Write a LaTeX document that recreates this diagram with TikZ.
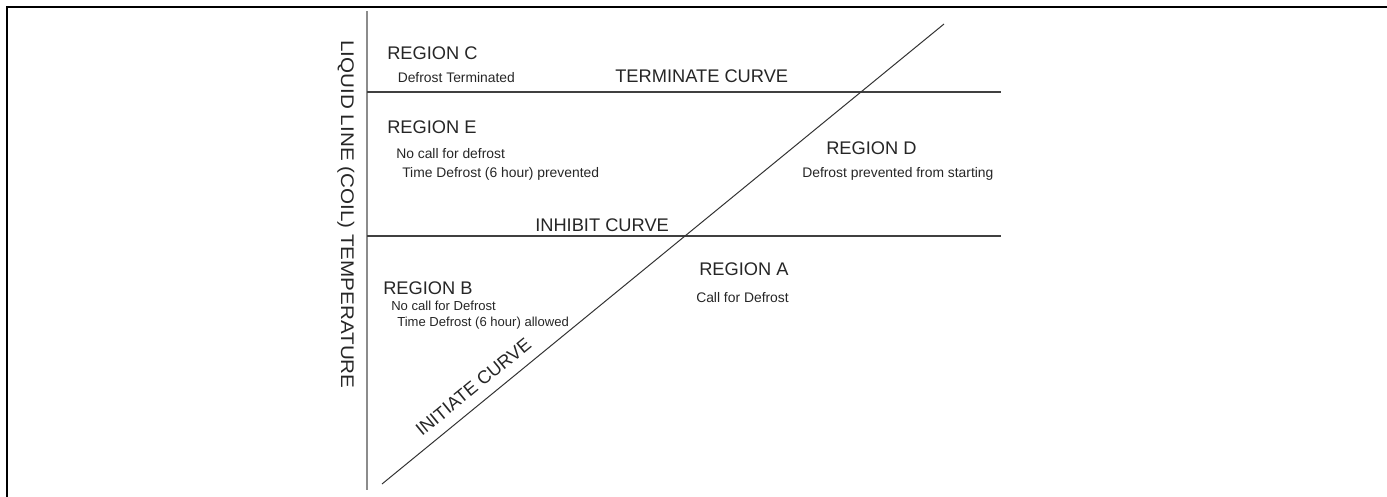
\documentclass[tikz,border=0pt]{standalone}
\usepackage{fontspec}
\setmainfont{Liberation Sans}
\begin{document}
\begin{tikzpicture}[x=0.75pt,y=-0.75pt,
  big/.style={inner sep=0pt,anchor=base west,font=\fontsize{13.7}{16}\selectfont,text=black!85},
  small/.style={inner sep=0pt,anchor=base west,font=\fontsize{10.4}{12}\selectfont,text=black!85},
  smallb/.style={small,font=\fontsize{9.8}{12}\selectfont},
  frameline/.style={line width=1.7pt,black},
  axisline/.style={line width=1.1pt,black!45},
  curveline/.style={line width=0.9pt,black!75},
  diagline/.style={line width=0.75pt,black!80}]
\useasboundingbox (0,0) rectangle (1387,496);
% frame (top and left edges)
\coordinate (f1) at (7,7);
\coordinate (f2) at (1390,7);
\coordinate (f3) at (7,500);
\draw[frameline] (f2) -- (f1) -- (f3);
% axis
\coordinate (ax1) at (367,11);
\coordinate (ax2) at (367,490);
\draw[axisline] (ax1) -- (ax2);
% terminate and inhibit curves
\coordinate (t1) at (367,92);
\coordinate (t2) at (1001,92);
\coordinate (i1) at (367,236);
\coordinate (i2) at (1001,236);
\draw[curveline] (t1) -- (t2);
\draw[curveline] (i1) -- (i2);
% initiate curve
\coordinate (d1) at (382,484);
\coordinate (d2) at (944,24);
\draw[diagline] (d1) -- (d2);
% labels
\node[big] (rc) at (387,59) {REGION C};
\node[small] (rct) at (397.5,82) {Defrost Terminated};
\node[big] (tc) at (615,82) {TERMINATE CURVE};
\node[big] (re) at (387,133) {REGION E};
\node[small] (re1) at (396,158) {No call for defrost};
\node[small] (re2) at (402,177) {Time Defrost (6 hour) prevented};
\node[big] (ic) at (535,231) {INHIBIT CURVE};
\node[big] (rd) at (826,154) {REGION D};
\node[small] (rdt) at (802,177) {Defrost prevented from starting};
\node[big] (ra) at (699,275) {REGION A};
\node[small] (rat) at (696,302) {Call for Defrost};
\node[big] (rb) at (383,294) {REGION B};
\node[smallb] (rb1) at (391,310) {No call for Defrost};
\node[smallb] (rb2) at (397,326) {Time Defrost (6 hour) allowed};
\node[big,rotate=39.3] (init) at (422,437) {INITIATE CURVE};
\node[inner sep=0pt,anchor=base,rotate=-90,font=\fontsize{13.7}{16}\selectfont,text=black!85] (yl) at (341,214.5) {\scalebox{1.13}[1]{LIQUID LINE (COIL) TEMPERATURE}};
\end{tikzpicture}
\end{document}
